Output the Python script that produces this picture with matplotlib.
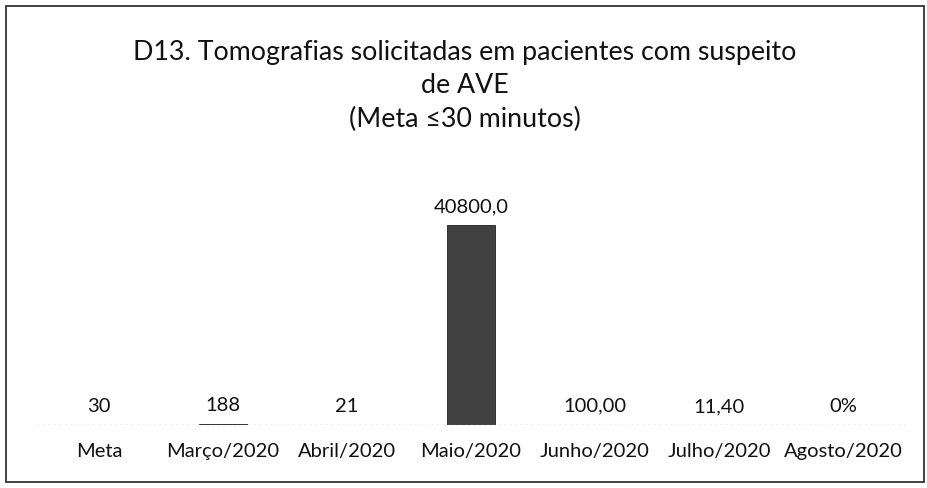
import numpy as np
import matplotlib
matplotlib.use('Agg')
import matplotlib.pyplot as plt
from matplotlib.patches import Rectangle

plt.rcParams['font.family'] = ['Lato', 'DejaVu Sans']

categories = ['Meta', 'Março/2020', 'Abril/2020', 'Maio/2020', 'Junho/2020', 'Julho/2020', 'Agosto/2020']
values = [30, 188, 21, 40800, 100, 11.4, 0]
value_labels = ['30', '188', '21', '40800,0', '100,00', '11,40', '0%']

title = 'D13. Tomografias solicitadas em pacientes com suspeito\nde AVE\n(Meta ≤30 minutos)'

fig = plt.figure(figsize=(9.28, 4.88), dpi=100)
ax = fig.add_axes([37/928, 63/488, 868/928, 235/488])

x = np.arange(len(categories))
ax.bar(x, values, width=0.39, color='#404040', edgecolor='#1e1e1e', linewidth=0.6)
ax.axhline(0, color='#9a9a9a', linewidth=1, linestyle=(0, (1, 3)))

for xi, v, lab in zip(x, values, value_labels):
    ax.annotate(lab, (xi, v), xytext=(0, 7), textcoords='offset points',
                ha='center', va='bottom', fontsize=14.5, color='#111111')

ax.set_xlim(-0.5, len(categories) - 0.5)
ax.set_ylim(0, 47940)
ax.set_xticks(x)
ax.set_xticklabels(categories, fontsize=14.5, color='#111111')
ax.tick_params(axis='x', length=0, pad=13)
ax.set_yticks([])
for s in ax.spines.values():
    s.set_visible(False)

fig.text(465/928, 1 - 86/488, title, ha='center', va='center', fontsize=19.3,
         linespacing=1.42, color='#111111')

fig.patches.append(Rectangle((6/928, 6/488), 918/928, 476/488, transform=fig.transFigure,
                             fill=False, edgecolor='#222222', linewidth=1.2))

fig.savefig('out.png', dpi=100)
